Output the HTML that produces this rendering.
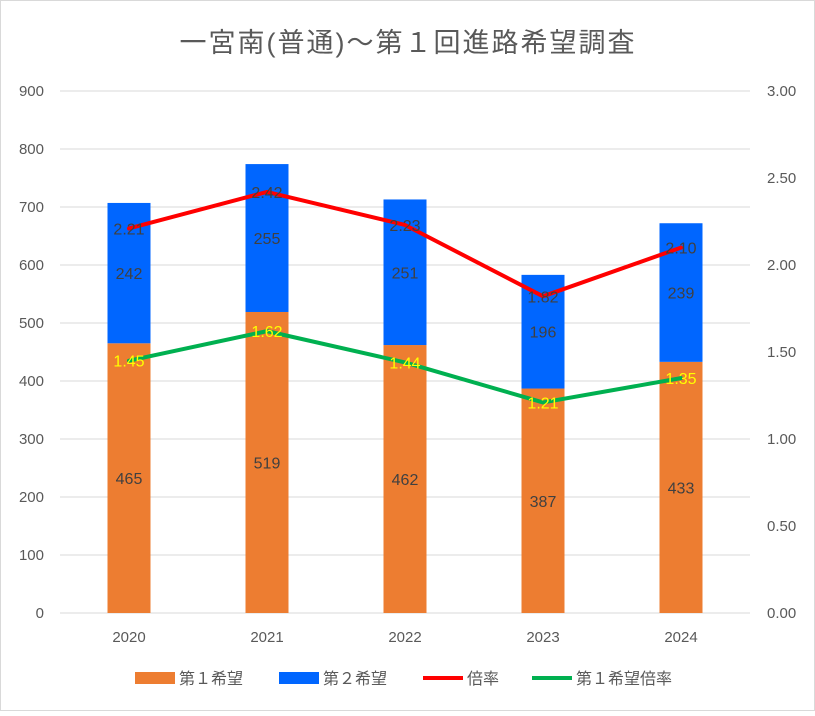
<!DOCTYPE html>
<html><head><meta charset="utf-8">
<style>
html,body{margin:0;padding:0;background:#fff;}
body{width:815px;height:711px;overflow:hidden;font-family:"Liberation Sans","Noto Sans CJK JP",sans-serif;}
svg text{font-family:"Liberation Sans","Noto Sans CJK JP",sans-serif;}
</style></head>
<body>
<svg id="chart" width="815" height="711" xmlns="http://www.w3.org/2000/svg">
<rect x="0.5" y="0.5" width="814" height="710" fill="#fff" stroke="#d9d9d9"/>
<text x="408" y="52" text-anchor="middle" font-size="27" letter-spacing="2" fill="#595959">一宮南(普通)～第１回進路希望調査</text>
<g id="grid"></g><g id="bars"></g><g id="lines"></g><g id="labels"></g><g id="axes"></g>
<g>
<rect x="135" y="672" width="40" height="12" fill="#ED7D31"/>
<text x="179" y="684" font-size="16" fill="#595959">第１希望</text>
<rect x="279" y="672" width="40" height="12" fill="#0066FF"/>
<text x="323" y="684" font-size="16" fill="#595959">第２希望</text>
<line x1="423" y1="678" x2="463" y2="678" stroke="#FF0000" stroke-width="4"/>
<text x="467" y="684" font-size="16" fill="#595959">倍率</text>
<line x1="532" y1="678" x2="572" y2="678" stroke="#00B050" stroke-width="4"/>
<text x="576" y="684" font-size="16" fill="#595959">第１希望倍率</text>
</g>
</svg>
<script>
const categories=["2020","2021","2022","2023","2024"];
const first=[465,519,462,387,433];
const second=[242,255,251,196,239];
const ratio=[2.21,2.42,2.23,1.82,2.10];
const firstRatio=[1.45,1.62,1.44,1.21,1.35];
const leftTicks=[0,100,200,300,400,500,600,700,800,900];
const rightTicks=["0.00","0.50","1.00","1.50","2.00","2.50","3.00"];
const NS="http://www.w3.org/2000/svg";
const X0=60,X1=750,Y0=613,Y1=91;
const yL=v=>Y0-(v/900)*(Y0-Y1);
const yR=v=>Y0-(v/3)*(Y0-Y1);
const band=(X1-X0)/categories.length;
const xC=i=>X0+band*(i+0.5);
function mk(tag,attrs,parent){const e=document.createElementNS(NS,tag);for(const k in attrs)e.setAttribute(k,attrs[k]);document.getElementById(parent).appendChild(e);return e;}
leftTicks.forEach(t=>{
  const l=mk('line',{x1:X0,x2:X1,y1:yL(t),y2:yL(t),stroke:'#d9d9d9','stroke-width':1},'grid');
  
  
  const tx=mk('text',{x:44,y:yL(t)+5,'text-anchor':'end','font-size':15,fill:'#595959'},'axes');
  tx.textContent=t;
  
  
});
rightTicks.forEach(t=>{
  const tx=mk('text',{x:767,y:yR(parseFloat(t))+5,'font-size':15,fill:'#595959'},'axes');
  tx.textContent=t;
  
  
});
const bw=43;
categories.forEach((c,i)=>{
  const x=xC(i)-bw/2;
  const b1=mk('rect',{x:x,y:yL(first[i]),width:bw,height:Y0-yL(first[i]),fill:'#ED7D31'},'bars');
  
  
  const b2=mk('rect',{x:x,y:yL(first[i]+second[i]),width:bw,height:yL(first[i])-yL(first[i]+second[i]),fill:'#0066FF'},'bars');
  
  
  const t1=mk('text',{x:xC(i),y:yL(first[i]/2)+6,'text-anchor':'middle','font-size':16,fill:'#404040'},'labels');
  t1.textContent=first[i];
  
  
  const t2=mk('text',{x:xC(i),y:yL(first[i]+second[i]/2)+6,'text-anchor':'middle','font-size':16,fill:'#404040'},'labels');
  t2.textContent=second[i];
  
  
  const cx=mk('text',{x:xC(i),y:642,'text-anchor':'middle','font-size':15,fill:'#595959'},'axes');
  cx.textContent=c;
  
  
});
function line(vals,color,name,labelColor){
  const pts=vals.map((v,i)=>xC(i)+','+yR(v)).join(' ');
  const p=mk('polyline',{points:pts,fill:'none',stroke:color,'stroke-width':4,'stroke-linejoin':'round','stroke-linecap':'round'},'lines');
  
  
  vals.forEach((v,i)=>{
    const t=mk('text',{x:xC(i),y:yR(v)+6,'text-anchor':'middle','font-size':16,fill:labelColor},'labels');
    t.textContent=v.toFixed(2);
    
    
  });
}
line(ratio,'#FF0000','ratio','#404040');
line(firstRatio,'#00B050','first-ratio','#FFFF00');
</script>
</body></html>
